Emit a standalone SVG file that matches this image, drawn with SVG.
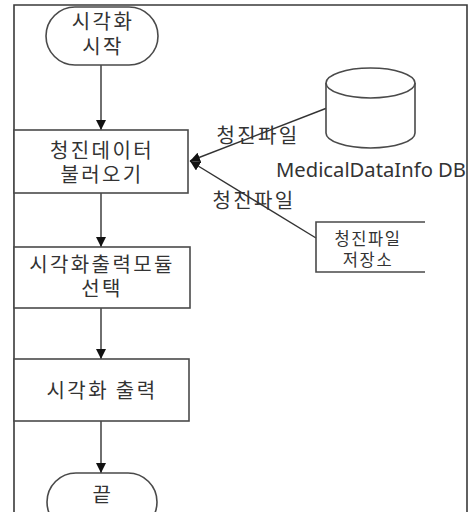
<svg xmlns="http://www.w3.org/2000/svg" width="470" height="512" viewBox="0 0 470 512">
  <style>
    .frame { fill: none; stroke: #3a3a3a; stroke-width: 1.6; }
    .shape { fill: #ffffff; stroke: #4a4a4a; stroke-width: 1.6; }
    .open { fill: none; stroke: #4a4a4a; stroke-width: 1.6; }
    .edge { fill: none; stroke: #333333; stroke-width: 1.4; }
    text { font-family: "Noto Sans CJK KR", "Malgun Gothic", sans-serif; fill: #333333; text-anchor: middle; }
    .t20 { font-size: 20px; letter-spacing: 2.4px; }
    .t17 { font-size: 16.5px; letter-spacing: 1.6px; }
    .latin { font-family: "Noto Sans", "Liberation Sans", sans-serif; font-size: 20px; }
  </style>
  <defs>
    <marker id="arrow" viewBox="0 0 10 10" refX="10" refY="5" markerWidth="10" markerHeight="10" markerUnits="userSpaceOnUse" orient="auto">
      <path d="M0,0 L10,5 L0,10 Z" fill="#111111"/>
    </marker>
  </defs>

  <rect width="470" height="512" fill="#ffffff"/>

  <!-- outer frame -->
  <path class="frame" d="M14,520 L14,5 L467,5 L467,520"/>

  <!-- connectors -->
  <g id="connectors">
    <line class="edge" x1="101" y1="65" x2="101" y2="130" marker-end="url(#arrow)"/>
    <line class="edge" x1="101" y1="193" x2="101" y2="247" marker-end="url(#arrow)"/>
    <line class="edge" x1="101" y1="308" x2="101" y2="359" marker-end="url(#arrow)"/>
    <line class="edge" x1="101" y1="421" x2="101" y2="473" marker-end="url(#arrow)"/>
    <line class="edge" x1="327" y1="108" x2="190" y2="161" marker-end="url(#arrow)"/>
    <line class="edge" x1="316" y1="238" x2="190" y2="161" marker-end="url(#arrow)"/>
    <text class="t20" x="258" y="143">청진파일</text>
    <text class="t20" x="254" y="208">청진파일</text>
  </g>

  <!-- start terminal -->
  <g id="start">
    <rect class="shape" x="46" y="7" width="112" height="58" rx="29" ry="29"/>
    <text class="t20" x="103" y="29">시각화</text>
    <text class="t20" x="103" y="54">시작</text>
  </g>

  <!-- load step -->
  <g id="load">
    <rect class="shape" x="14" y="130" width="174" height="63"/>
    <text class="t20" x="102" y="158">청진데이터</text>
    <text class="t20" x="102" y="182">불러오기</text>
  </g>

  <!-- module selection step -->
  <g id="select">
    <rect class="shape" x="14" y="247" width="176" height="61"/>
    <text class="t20" x="102" y="272">시각화출력모듈</text>
    <text class="t20" x="102" y="296">선택</text>
  </g>

  <!-- output step -->
  <g id="output">
    <rect class="shape" x="14" y="359" width="175" height="62"/>
    <text class="t20" x="102" y="398">시각화 출력</text>
  </g>

  <!-- end terminal -->
  <g id="end">
    <rect class="shape" x="47" y="473" width="110" height="58" rx="29" ry="29"/>
    <text class="t20" x="103" y="502">끝</text>
  </g>

  <!-- database -->
  <g id="db">
    <path class="shape" d="M326,83 L326,133 A44.5,15 0 0 0 415,133 L415,83"/>
    <ellipse class="shape" cx="370.5" cy="83" rx="44.5" ry="15"/>
    <text class="latin" x="371" y="177" textLength="190" lengthAdjust="spacingAndGlyphs">MedicalDataInfo DB</text>
  </g>

  <!-- file store -->
  <g id="store">
    <path class="open" d="M425,222 L316,222 L316,272 L425,272"/>
    <text class="t17" x="368" y="245">청진파일</text>
    <text class="t17" x="368" y="266">저장소</text>
  </g>
</svg>
